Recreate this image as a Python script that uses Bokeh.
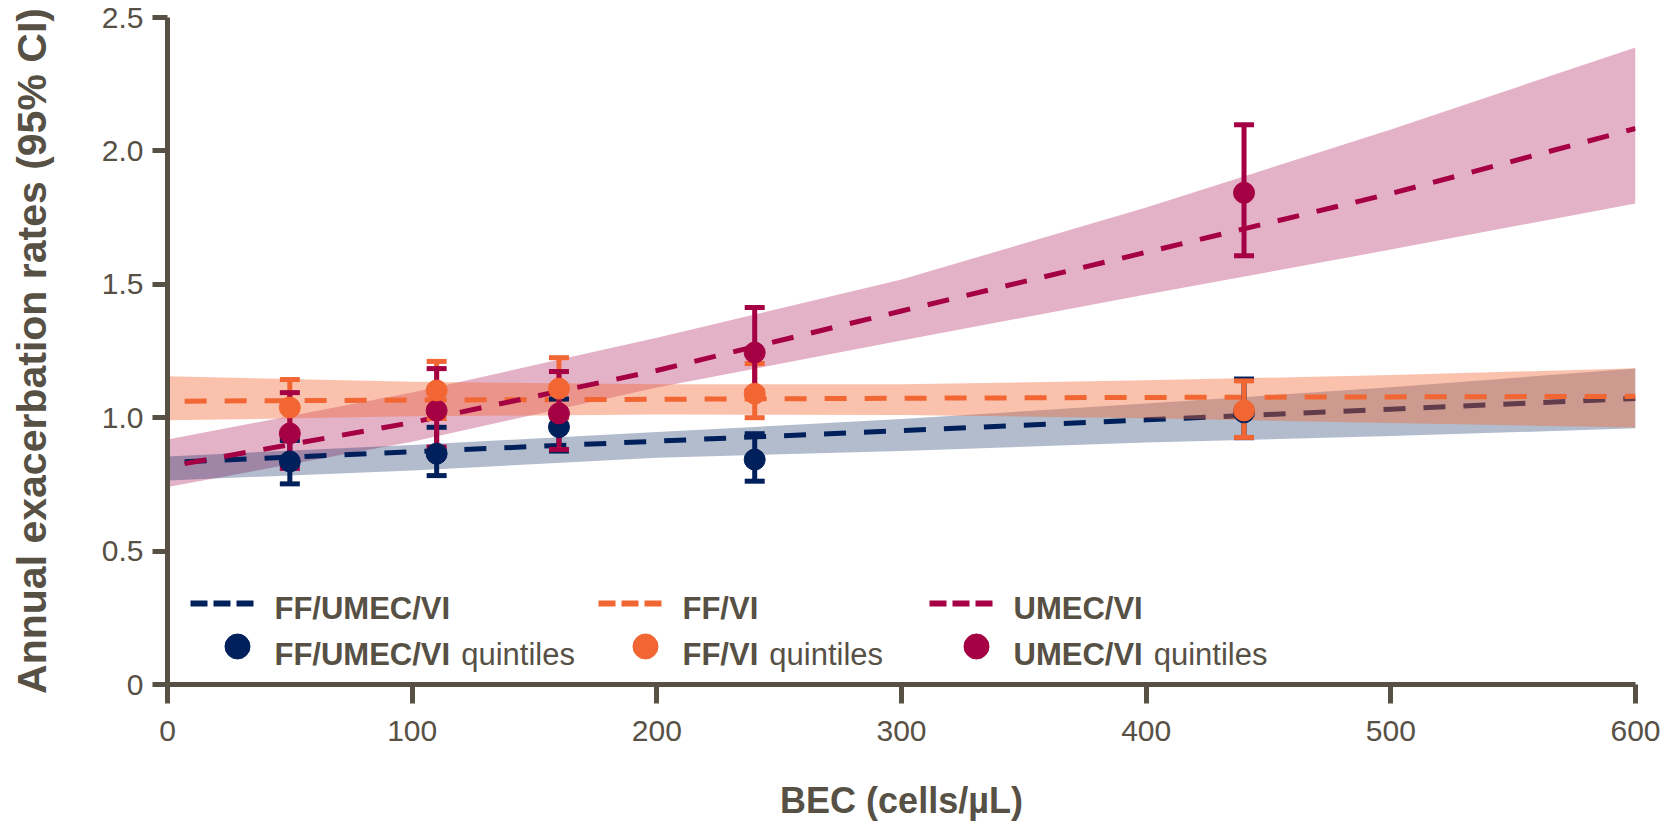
from bokeh.core.properties import value
from bokeh.embed import file_html
from bokeh.models import CustomJSTickFormatter, FixedTicker, Range1d
from bokeh.plotting import figure
from bokeh.resources import INLINE

# ---------------------------------------------------------------------------
# Data
# ---------------------------------------------------------------------------
BEC_QUINTILES = [50, 110, 160, 240, 440]

FF_UMEC_VI_RATE = [0.836, 0.865, 0.965, 0.843, 1.020]
FF_UMEC_VI_LO = [0.752, 0.783, 0.875, 0.762, 0.925]
FF_UMEC_VI_HI = [0.915, 0.964, 1.070, 0.940, 1.145]

FF_VI_RATE = [1.038, 1.102, 1.109, 1.090, 1.027]
FF_VI_LO = [0.940, 0.997, 1.000, 1.000, 0.926]
FF_VI_HI = [1.143, 1.211, 1.225, 1.203, 1.138]

UMEC_VI_RATE = [0.941, 1.027, 1.016, 1.244, 1.843]
UMEC_VI_LO = [0.810, 0.890, 0.881, 1.100, 1.607]
UMEC_VI_HI = [1.094, 1.184, 1.173, 1.413, 2.098]

# modelled rate across continuous BEC, with 95% confidence band
FIT_BEC = [7, 100, 200, 300, 400, 500, 600]
BAND_BEC = [0, 100, 200, 300, 400, 500, 600]

FF_UMEC_VI_FIT = [0.835, 0.872, 0.912, 0.952, 0.992, 1.032, 1.072]
FF_UMEC_VI_BAND_LO = [0.765, 0.802, 0.850, 0.875, 0.907, 0.931, 0.960]
FF_UMEC_VI_BAND_HI = [0.855, 0.898, 0.946, 0.995, 1.053, 1.114, 1.184]

FF_VI_FIT = [1.062, 1.066, 1.069, 1.073, 1.076, 1.078, 1.080]
FF_VI_BAND_LO = [0.990, 1.005, 1.012, 1.010, 0.998, 0.980, 0.963]
FF_VI_BAND_HI = [1.155, 1.135, 1.125, 1.125, 1.140, 1.160, 1.185]

UMEC_VI_FIT = [0.828, 0.982, 1.177, 1.400, 1.620, 1.840, 2.084]
UMEC_VI_BAND_LO = [0.740, 0.910, 1.113, 1.289, 1.462, 1.630, 1.803]
UMEC_VI_BAND_HI = [0.918, 1.094, 1.300, 1.518, 1.788, 2.080, 2.388]

X_TICKS = [0, 100, 200, 300, 400, 500, 600]
Y_TICKS = [0, 0.5, 1.0, 1.5, 2.0, 2.5]

TREATMENTS = ["FF/UMEC/VI", "FF/VI", "UMEC/VI"]
X_TITLE = "BEC (cells/µL)"
Y_TITLE = "Annual exacerbation rates (95% CI)"

# ---------------------------------------------------------------------------
# Styling
# ---------------------------------------------------------------------------
NAVY = "#00205B"
ORANGE = "#F26633"
MAGENTA = "#A50044"
INK = "#575045"
FONT = "Liberation Sans"

W, H = 1668, 823
FRAME_LEFT, FRAME_RIGHT, FRAME_TOP, FRAME_BOTTOM = 167, 1635, 17, 684
X_MIN, X_MAX, Y_MIN, Y_MAX = 0, 600, 0, 2.5


def px_x(px):
    return X_MIN + (px - FRAME_LEFT) * (X_MAX - X_MIN) / (FRAME_RIGHT - FRAME_LEFT)


def px_y(py):
    return Y_MAX - (py - FRAME_TOP) * (Y_MAX - Y_MIN) / (FRAME_BOTTOM - FRAME_TOP)


p = figure(
    width=W, height=H,
    x_range=Range1d(X_MIN, X_MAX), y_range=Range1d(Y_MIN, Y_MAX),
    output_backend="svg", toolbar_location=None,
    min_border_left=FRAME_LEFT, min_border_right=W - FRAME_RIGHT,
    min_border_top=FRAME_TOP, min_border_bottom=H - FRAME_BOTTOM,
)
p.outline_line_color = None
p.xgrid.visible = False
p.ygrid.visible = False
p.background_fill_color = "white"
p.border_fill_color = "white"

for ax in (p.xaxis[0], p.yaxis[0]):
    ax.axis_line_color = INK
    ax.axis_line_width = 5
    ax.major_tick_line_color = INK
    ax.major_tick_line_width = 5
    ax.major_tick_in = 0
    ax.minor_tick_line_color = None
    ax.major_label_text_font = FONT
    ax.major_label_text_font_size = "30px"
    ax.major_label_text_color = INK
    ax.axis_label_text_font = FONT
    ax.axis_label_text_font_style = "bold"
    ax.axis_label_text_color = INK

p.xaxis.ticker = FixedTicker(ticks=X_TICKS)
p.xaxis.major_tick_out = 19
p.xaxis.major_label_standoff = 17
p.xaxis.axis_label = X_TITLE
p.xaxis.axis_label_text_font_size = "36px"
p.xaxis.axis_label_standoff = 36

p.yaxis.ticker = FixedTicker(ticks=Y_TICKS)
p.yaxis.major_tick_out = 15
p.yaxis.major_label_standoff = 9
p.yaxis.formatter = CustomJSTickFormatter(code="return tick == 0 ? '0' : tick.toFixed(1);")
p.yaxis.axis_label = Y_TITLE
p.yaxis.axis_label_text_font_size = "41px"
p.yaxis.axis_label_standoff = 44

# ---------------------------------------------------------------------------
# Confidence bands and fitted lines
# ---------------------------------------------------------------------------
DASH = "22 18"
p.varea(x=BAND_BEC, y1=UMEC_VI_BAND_LO, y2=UMEC_VI_BAND_HI, fill_color=MAGENTA, fill_alpha=0.3)
p.varea(x=BAND_BEC, y1=FF_UMEC_VI_BAND_LO, y2=FF_UMEC_VI_BAND_HI, fill_color=NAVY, fill_alpha=0.3)
p.line(FIT_BEC, FF_UMEC_VI_FIT, line_color=NAVY, line_width=5, line_dash=DASH)
p.varea(x=BAND_BEC, y1=FF_VI_BAND_LO, y2=FF_VI_BAND_HI, fill_color=ORANGE, fill_alpha=0.4)
p.line(FIT_BEC, FF_VI_FIT, line_color=ORANGE, line_width=5, line_dash=DASH)
p.line(FIT_BEC, UMEC_VI_FIT, line_color=MAGENTA, line_width=5, line_dash=DASH)

# ---------------------------------------------------------------------------
# Quintile estimates with 95% CI error bars
# ---------------------------------------------------------------------------
for lo, hi, color in (
    (FF_UMEC_VI_LO, FF_UMEC_VI_HI, NAVY),
    (FF_VI_LO, FF_VI_HI, ORANGE),
    (UMEC_VI_LO, UMEC_VI_HI, MAGENTA),
):
    p.segment(x0=BEC_QUINTILES, y0=lo, x1=BEC_QUINTILES, y1=hi, line_color=color, line_width=5)
    p.scatter(BEC_QUINTILES, lo, marker="dash", size=20, line_color=color, line_width=5)
    p.scatter(BEC_QUINTILES, hi, marker="dash", size=20, line_color=color, line_width=5)

for rate, color in ((FF_UMEC_VI_RATE, NAVY), (UMEC_VI_RATE, MAGENTA), (FF_VI_RATE, ORANGE)):
    p.scatter(BEC_QUINTILES, rate, marker="circle", size=21, fill_color=color, line_color=color)

# ---------------------------------------------------------------------------
# Legend (two rows: fitted lines, quintile markers)
# ---------------------------------------------------------------------------
BOLD_WIDTHS = {"F": 611, "/": 278, "U": 722, "M": 833, "E": 667, "C": 722, "V": 667, "I": 278}
LEG_FONT_PX = 31
legend_cols = [274, 682, 1013]
row1_base, row2_base = 608, 654
dash_y, dot_y = 603, 646

for name, color, tx in zip(TREATMENTS, (NAVY, ORANGE, MAGENTA), legend_cols):
    p.line([px_x(tx - 84), px_x(tx - 21)], [px_y(dash_y)] * 2,
           line_color=color, line_width=6, line_dash="17 6")
    p.scatter([px_x(tx - 37)], [px_y(dot_y)], marker="circle", size=25,
              fill_color=color, line_color=color)
    bold_w = sum(BOLD_WIDTHS[c] for c in name) / 1000 * LEG_FONT_PX
    for base in (row1_base, row2_base):
        p.text([px_x(tx)], [px_y(base)], text=[name], text_font=value(FONT),
               text_font_style="bold", text_font_size=f"{LEG_FONT_PX}px",
               text_color=INK, text_align="left", text_baseline="alphabetic")
    p.text([px_x(tx + bold_w + 11)], [px_y(row2_base)], text=["quintiles"],
           text_font=value(FONT), text_font_size=f"{LEG_FONT_PX}px",
           text_color=INK, text_align="left", text_baseline="alphabetic")

open("out.html", "w").write(file_html(p, INLINE))
